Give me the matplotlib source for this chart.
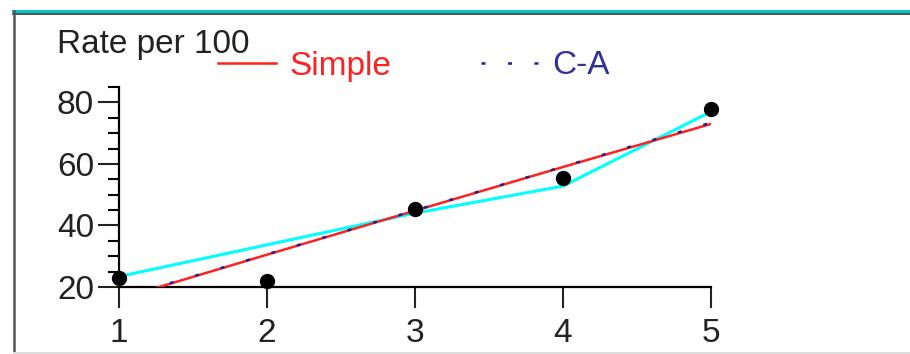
import matplotlib
matplotlib.use("Agg")
import matplotlib.pyplot as plt
from matplotlib.lines import Line2D
from matplotlib.ticker import MultipleLocator

plt.rcParams['font.family'] = ['Liberation Sans', 'DejaVu Sans']

# data
x = [1, 2, 3, 4, 5]
observed = [23, 22, 45.5, 55.5, 78]
smooth = [23.4, 33.7, 44, 52.8, 77]
simple = [16.1, 30.5, 44.8, 59.0, 73.0]
ca = [16.3, 30.6, 44.9, 59.1, 73.4]
y_ticks = [20, 40, 60, 80]

fig = plt.figure(figsize=(9.10, 3.54), dpi=100)
ax = fig.add_axes([119/910, 67/354, 592/910, 200/354])

ax.plot(x, smooth, color='#00ffff', lw=2.2, zorder=2)
ax.plot(x, simple, color='#ff2020', lw=1.8, zorder=3, label='Simple')
ax.plot(x, ca, color='#202090', lw=1.8, dashes=(1.6, 9), zorder=4, label='C-A')
ax.plot(x, observed, 'o', color='black', ms=10, zorder=5, clip_on=False)

ax.set_xlim(1, 5)
ax.set_ylim(20, 85)
ax.set_xticks(x)
ax.set_yticks(y_ticks)
ax.yaxis.set_minor_locator(MultipleLocator(5))
for s in ['top', 'right']:
    ax.spines[s].set_visible(False)
for s in ['left', 'bottom']:
    ax.spines[s].set_linewidth(1.6)
ax.tick_params(axis='both', which='major', length=15, width=1.5, labelsize=24)
ax.tick_params(axis='x', which='major', pad=7)
ax.tick_params(axis='y', which='major', pad=3)
ax.tick_params(axis='y', which='minor', length=8, width=1.5)
ax.tick_params(colors='#222222')

fig.text(57/910, 1 - 53/354, 'Rate per 100', fontsize=24, va='baseline', color='#222222')

leg = fig.legend(loc='center left', bbox_to_anchor=(188/910, 1 - 66/354), ncol=2,
                 frameon=False, fontsize=24, handlelength=1.75, handletextpad=0.38,
                 columnspacing=2.7, labelcolor=['#ff2020', '#303099'])

# frame around the picture
fig.add_artist(Line2D([13/910, 1], [1 - 11/354, 1 - 11/354], color='#00c8c8', lw=2.2))
fig.add_artist(Line2D([13/910, 1], [1 - 13.5/354, 1 - 13.5/354], color='#333333', lw=1.2))
fig.add_artist(Line2D([14/910, 14/910], [0, 1 - 11/354], color='#555555', lw=1.8))
fig.add_artist(Line2D([14/910, 1], [1.5/354, 1.5/354], color='#dddddd', lw=1.5))

fig.savefig('out.png', dpi=100)
